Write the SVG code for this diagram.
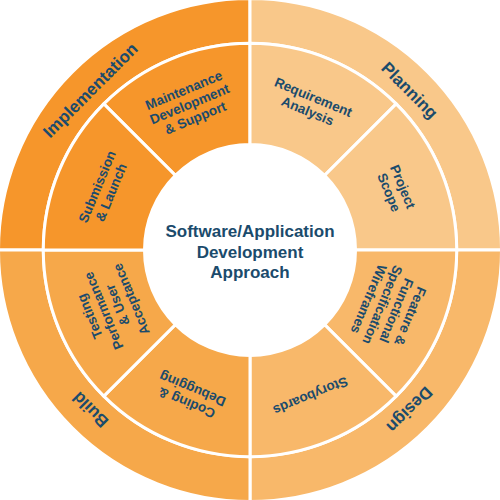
<svg xmlns="http://www.w3.org/2000/svg" width="500" height="500" viewBox="0 0 500 500">
<style>
.seg{stroke:#fff;stroke-width:3;stroke-linejoin:miter}
.impl{fill:#F6962B}
.plan{fill:#F9C88A}
.design{fill:#F8B86A}
.build{fill:#F6A84A}
text{font-family:"Liberation Sans",Arial,Helvetica,sans-serif;font-weight:bold;fill:#1B4B6C;text-anchor:middle}
.outer{font-size:17px}
.inner{font-size:13.5px}
.center{font-size:17px}
</style>
<rect width="500" height="500" fill="#fff"/>
<g id="implementation">
<path class="seg impl" d="M -1.5,250 A 251.5 251.5 0 0 1 250,-1.5 L 250,43.3 A 206.7 206.7 0 0 0 43.3,250 Z"/>
<text class="outer" x="250" y="30" transform="rotate(-45 250 250)">Implementation</text>
</g>
<g id="planning">
<path class="seg plan" d="M 250,-1.5 A 251.5 251.5 0 0 1 501.5,250 L 456.7,250 A 206.7 206.7 0 0 0 250,43.3 Z"/>
<text class="outer" x="250" y="30" transform="rotate(45 250 250)">Planning</text>
</g>
<g id="design">
<path class="seg design" d="M 501.5,250 A 251.5 251.5 0 0 1 250,501.5 L 250,456.7 A 206.7 206.7 0 0 0 456.7,250 Z"/>
<text class="outer" x="250" y="30" transform="rotate(135 250 250)">Design</text>
</g>
<g id="build">
<path class="seg build" d="M 250,501.5 A 251.5 251.5 0 0 1 -1.5,250 L 43.3,250 A 206.7 206.7 0 0 0 250,456.7 Z"/>
<text class="outer" x="250" y="30" transform="rotate(-135 250 250)">Build</text>
</g>
<g id="maintenance">
<path class="seg impl" d="M 103.84,103.84 A 206.7 206.7 0 0 1 250,43.3 L 250,144.5 A 105.5 105.5 0 0 0 175.4,175.4 Z"/>
<text class="inner" transform="rotate(-22.5 250 250)"><tspan x="250" y="81.7">Maintenance</tspan><tspan x="250" y="96.7">Development</tspan><tspan x="250" y="111.7">&amp; Support</tspan></text>
</g>
<g id="requirement">
<path class="seg plan" d="M 250,43.3 A 206.7 206.7 0 0 1 396.16,103.84 L 324.6,175.4 A 105.5 105.5 0 0 0 250,144.5 Z"/>
<text class="inner" transform="rotate(22.5 250 250)"><tspan x="250" y="89.2">Requirement</tspan><tspan x="250" y="104.2">Analysis</tspan></text>
</g>
<g id="scope">
<path class="seg plan" d="M 396.16,103.84 A 206.7 206.7 0 0 1 456.7,250 L 355.5,250 A 105.5 105.5 0 0 0 324.6,175.4 Z"/>
<text class="inner" transform="rotate(67.5 250 250)"><tspan x="250" y="89.2">Project</tspan><tspan x="250" y="104.2">Scope</tspan></text>
</g>
<g id="feature">
<path class="seg design" d="M 456.7,250 A 206.7 206.7 0 0 1 396.16,396.16 L 324.6,324.6 A 105.5 105.5 0 0 0 355.5,250 Z"/>
<text class="inner" transform="rotate(112.5 250 250)"><tspan x="250" y="81.2">Feature &amp;</tspan><tspan x="250" y="96.2">Functional</tspan><tspan x="250" y="111.2">Specification</tspan><tspan x="250" y="126.2">Wireframes</tspan></text>
</g>
<g id="storyboards">
<path class="seg design" d="M 396.16,396.16 A 206.7 206.7 0 0 1 250,456.7 L 250,355.5 A 105.5 105.5 0 0 0 324.6,324.6 Z"/>
<text class="inner" x="250" y="96.7" transform="rotate(157.5 250 250)">Storyboards</text>
</g>
<g id="coding">
<path class="seg build" d="M 250,456.7 A 206.7 206.7 0 0 1 103.84,396.16 L 175.4,324.6 A 105.5 105.5 0 0 0 250,355.5 Z"/>
<text class="inner" transform="rotate(-157.5 250 250)"><tspan x="250" y="89.2">Coding &amp;</tspan><tspan x="250" y="104.2">Debugging</tspan></text>
</g>
<g id="testing">
<path class="seg build" d="M 103.84,396.16 A 206.7 206.7 0 0 1 43.3,250 L 144.5,250 A 105.5 105.5 0 0 0 175.4,324.6 Z"/>
<text class="inner" transform="rotate(-112.5 250 250)"><tspan x="250" y="81.2">Testing</tspan><tspan x="250" y="96.2">Performance</tspan><tspan x="250" y="111.2">&amp; User</tspan><tspan x="250" y="126.2">Acceptance</tspan></text>
</g>
<g id="submission">
<path class="seg impl" d="M 43.3,250 A 206.7 206.7 0 0 1 103.84,103.84 L 175.4,175.4 A 105.5 105.5 0 0 0 144.5,250 Z"/>
<text class="inner" transform="rotate(-67.5 250 250)"><tspan x="250" y="89.2">Submission</tspan><tspan x="250" y="104.2">&amp; Launch</tspan></text>
</g>
<g id="center">
<circle cx="250" cy="250" r="105.5" fill="#fff"/>
<text class="center"><tspan x="250" y="237">Software/Application</tspan><tspan x="250" y="257.5">Development</tspan><tspan x="250" y="278">Approach</tspan></text>
</g>
</svg>
